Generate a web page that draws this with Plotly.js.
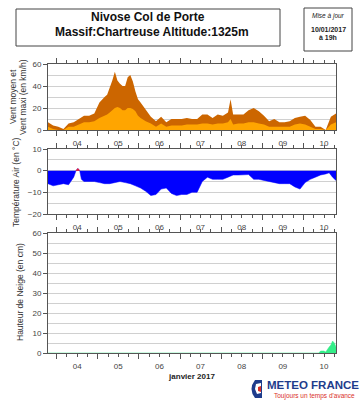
<!DOCTYPE html>
<html><head><meta charset="utf-8">
<script src="https://cdn.plot.ly/plotly-3.0.1.min.js"></script>
<style>html,body{margin:0;padding:0;background:#fff}#c{width:361px;height:400px}</style>
</head><body><div id="c"></div>
<script>
// ---- data ----
const startTime = '2017-01-03 19:00';
const endTime = '2017-01-10 19:00';
const windHours = [0,3,6,9,12,15,18,21,24,27,30,31.5,33,34.5,36,37.5,39,40.5,42,43.5,45,46.5,48,49.5,51,52.5,54,57,60,63,66,69,72,75,78,81,84,87,90,93,96,99,102,105,106.5,108,111,114,117,120,123,126,129,132,135,138,141,144,147,150,153,156,159,162,165,168];
const windMax  = [7,4,3,1,6,7,10,13,13,15,25,28,30,32,38,45,53,45,42,40,40,48,50,44,35,28,25,18,12,8,12,7,10,10,10,11,10,10,14,14,11,14,13,16,28,14,14,14,18,20,17,13,8,10,7,7,8,11,12,13,9,3,3,0,12,15];
const windMean = [3,1,0,0,3,3,5,7,7,8,11,12,13,14,16,18,20,21,20,18,18,20,20,19,17,13,11,8,6,3,6,3,4,4,4,5,5,5,6,6,5,6,6,7,10,5,6,6,7,7,6,5,3,3,3,3,3,5,6,5,3,1,1,0,5,7];
const tempHours = [0,3,6,9,12,15,16.5,17.5,18.5,19.5,21,24,27,30,33,36,39,42,45,48,51,54,57,60,63,66,69,72,75,78,81,84,87,90,93,96,99,102,105,108,111,114,117,120,123,126,129,132,135,138,141,144,147,150,153,156,159,162,164,166,168];
const temp = [-6,-7,-6.5,-6,-6.5,-3,0.3,1,0,-4,-5,-5,-5,-5.5,-6,-6,-5.5,-5,-5.5,-6,-7,-8,-9.5,-11.5,-11,-8.5,-8,-10.5,-11.5,-11,-11,-10,-10,-5,-3,-4,-4,-4,-3,-2,-2,-2,-1.8,-4,-4,-4.5,-5,-5.5,-6,-6,-6,-7.5,-8.5,-5.5,-4,-3,-2,-1.5,-1,-3,-4.5];
const tempWarmHours = [16.2,16.5,17.5,18.5];
const tempWarm = [0,0.3,1,0];
const snowHours = [0,156,158,159,161,162,163,164,165,166,167,168];
const snow = [0,0,0,1,1,0.5,2,3,4,6,5,3];
const dayLabels = ['04','05','06','07','08','09','10'];

// ---- helpers ----
const t0 = new Date('2017-01-03T19:00:00Z').getTime();
const toDate = h => { const d = new Date(t0 + h*3600000); return d.toISOString().replace('T',' ').slice(0,19); };
const PX = x => (x-48)/288;
const PY = y => (353-y)/289;

const traces = [
  {x: windHours.map(toDate), y: windMax, xaxis:'x', yaxis:'y', type:'scatter', mode:'lines', fill:'tozeroy', fillcolor:'#CC6600', line:{width:0, color:'#CC6600'}, hoverinfo:'skip'},
  {x: windHours.map(toDate), y: windMean, xaxis:'x', yaxis:'y', type:'scatter', mode:'lines', fill:'tozeroy', fillcolor:'#FFA500', line:{width:0, color:'#FFA500'}, hoverinfo:'skip'},
  {x: tempHours.map(toDate), y: temp, xaxis:'x2', yaxis:'y2', type:'scatter', mode:'lines', fill:'tozeroy', fillcolor:'#0000FF', line:{width:0.5, color:'#0000FF'}, hoverinfo:'skip'},
  {x: tempWarmHours.map(toDate), y: tempWarm, xaxis:'x2', yaxis:'y2', type:'scatter', mode:'lines', fill:'tozeroy', fillcolor:'#FF2020', line:{width:0.5, color:'#FF2020'}, hoverinfo:'skip'},
  {x: snowHours.map(toDate), y: snow, xaxis:'x3', yaxis:'y3', type:'scatter', mode:'lines', fill:'tozeroy', fillcolor:'#33EE88', line:{width:0.5, color:'#33EE88'}, hoverinfo:'skip'}
];

const tickFont = {family:'Liberation Sans, Arial, sans-serif', size:8, color:'#444'};
function xax(anchor, title){
  const a = {anchor:anchor, type:'date', range:[startTime, endTime], tick0:'2017-01-04', dtick:86400000,
    tickformat:'%d', ticklabelmode:'period', ticks:'outside', ticklen:5, tickcolor:'#555', tickwidth:1,
    minor:{dtick:6*3600000, ticks:'outside', ticklen:3, tickcolor:'#555'},
    showline:true, linecolor:'#555', linewidth:1, mirror:'ticks', showgrid:false, zeroline:false,
    tickfont:tickFont, fixedrange:true};
  if(title) a.title = {text:title, font:{family:'Liberation Sans, Arial, sans-serif', size:8, color:'#222'}, standoff:3};
  return a;
}
function yax(domain, range, dtick, mdtick){
  return {domain:domain, range:range, dtick:dtick, ticks:'outside', ticklen:4, tickcolor:'#555',
    showgrid:true, gridcolor:'#d0d0d0', gridwidth:1, minor:{dtick:mdtick, showgrid:true, gridcolor:'#d0d0d0', gridwidth:1},
    showline:true, linecolor:'#555', linewidth:1, mirror:true, zeroline:false, tickfont:tickFont, fixedrange:true};
}
function yright(over, range, dtick){
  return {overlaying:over, side:'right', anchor:over==='y'?'x':(over==='y2'?'x2':'x3'), range:range, dtick:dtick, ticks:'outside', ticklen:4, tickcolor:'#555',
    showgrid:false, showline:false, zeroline:false, tickfont:tickFont, fixedrange:true};
}

const d1 = [PY(130), 1], d2 = [PY(214), PY(149)], d3 = [0, PY(233)];
const titleFont = {family:'Liberation Sans, Arial, sans-serif', size:8.5, color:'#333'};

const layout = {
  width:361, height:400, margin:{l:48, r:25, t:64, b:47}, paper_bgcolor:'#fff', plot_bgcolor:'#fff', showlegend:false,
  xaxis: xax('y'), xaxis2: xax('y2'), xaxis3: xax('y3', '<b>janvier 2017</b>'),
  yaxis: yax(d1, [0,60], 20, 10),
  yaxis2: yax(d2, [-20,10], 10, 5),
  yaxis3: yax(d3, [0,60], 10, 5),
  yaxis4: yright('y', [0,60], 20),
  yaxis5: yright('y2', [-20,10], 10),
  yaxis6: yright('y3', [0,60], 10),
  shapes: [
    {type:'rect', xref:'paper', yref:'paper', x0:PX(16), x1:PX(280), y0:PY(46), y1:PY(9), line:{color:'#444', width:1}, fillcolor:'#fff'},
    {type:'rect', xref:'paper', yref:'paper', x0:PX(304), x1:PX(352), y0:PY(51), y1:PY(8), line:{color:'#444', width:1}, fillcolor:'#fff'},
    // logo icon
    {type:'path', xref:'paper', yref:'paper', path:`M ${PX(255)} ${PY(380)} L ${PX(262)} ${PY(380)} L ${PX(262)} ${PY(398)} L ${PX(255)} ${PY(398)} Q ${PX(248)} ${PY(389)} ${PX(255)} ${PY(380)} Z`, fillcolor:'#1e3c8c', line:{width:0}},
    {type:'path', xref:'paper', yref:'paper', path:`M ${PX(256)} ${PY(384)} L ${PX(261)} ${PY(383)} L ${PX(261)} ${PY(393)} L ${PX(257)} ${PY(394)} L ${PX(255)} ${PY(389)} Z`, fillcolor:'#fff', line:{width:0}},
    {type:'path', xref:'paper', yref:'paper', path:`M ${PX(258)} ${PY(387)} L ${PX(261)} ${PY(386)} L ${PX(261)} ${PY(392)} L ${PX(258)} ${PY(391)} Z`, fillcolor:'#d9302a', line:{width:0}}
  ],
  annotations: [
    {xref:'paper', yref:'paper', x:PX(148), y:PY(17), text:'<b>Nivose Col de Porte</b>', showarrow:false, font:{family:'Liberation Sans, Arial, sans-serif', size:12, color:'#111'}, xanchor:'center', yanchor:'middle'},
    {xref:'paper', yref:'paper', x:PX(152), y:PY(32), text:'<b>Massif:Chartreuse Altitude:1325m</b>', showarrow:false, font:{family:'Liberation Sans, Arial, sans-serif', size:12, color:'#111'}, xanchor:'center', yanchor:'middle'},
    {xref:'paper', yref:'paper', x:PX(328), y:PY(16), text:'<i>Mise à jour</i>', showarrow:false, font:{family:'Liberation Sans, Arial, sans-serif', size:6.5, color:'#222'}, xanchor:'center', yanchor:'middle'},
    {xref:'paper', yref:'paper', x:PX(328), y:PY(30), text:'<b>10/01/2017</b>', showarrow:false, font:{family:'Liberation Sans, Arial, sans-serif', size:7, color:'#222'}, xanchor:'center', yanchor:'middle'},
    {xref:'paper', yref:'paper', x:PX(328), y:PY(38), text:'<b>à 19h</b>', showarrow:false, font:{family:'Liberation Sans, Arial, sans-serif', size:7, color:'#222'}, xanchor:'center', yanchor:'middle'},
    {xref:'paper', yref:'paper', x:PX(13), y:PY(97), text:'Vent moyen et', textangle:-90, showarrow:false, font:titleFont, xanchor:'center', yanchor:'middle'},
    {xref:'paper', yref:'paper', x:PX(23), y:PY(97), text:'Vent maxi (en km/h)', textangle:-90, showarrow:false, font:titleFont, xanchor:'center', yanchor:'middle'},
    {xref:'paper', yref:'paper', x:PX(16), y:PY(182), text:'Température Air (en °C)', textangle:-90, showarrow:false, font:titleFont, xanchor:'center', yanchor:'middle'},
    {xref:'paper', yref:'paper', x:PX(20), y:PY(292), text:'Hauteur de Neige (en cm)', textangle:-90, showarrow:false, font:titleFont, xanchor:'center', yanchor:'middle'},
    {xref:'paper', yref:'paper', x:PX(313), y:PY(385), text:'<b>METEO FRANCE</b>', showarrow:false, font:{family:'Liberation Sans, Arial, sans-serif', size:11.5, color:'#1e3c8c'}, xanchor:'center', yanchor:'middle'},
    {xref:'paper', yref:'paper', x:PX(314), y:PY(396), text:'Toujours un temps d\'avance', showarrow:false, font:{family:'Liberation Sans, Arial, sans-serif', size:6.5, color:'#d9302a'}, xanchor:'center', yanchor:'middle'}
  ]
};

Plotly.newPlot('c', traces, layout, {staticPlot:true, displayModeBar:false});
</script></body></html>
